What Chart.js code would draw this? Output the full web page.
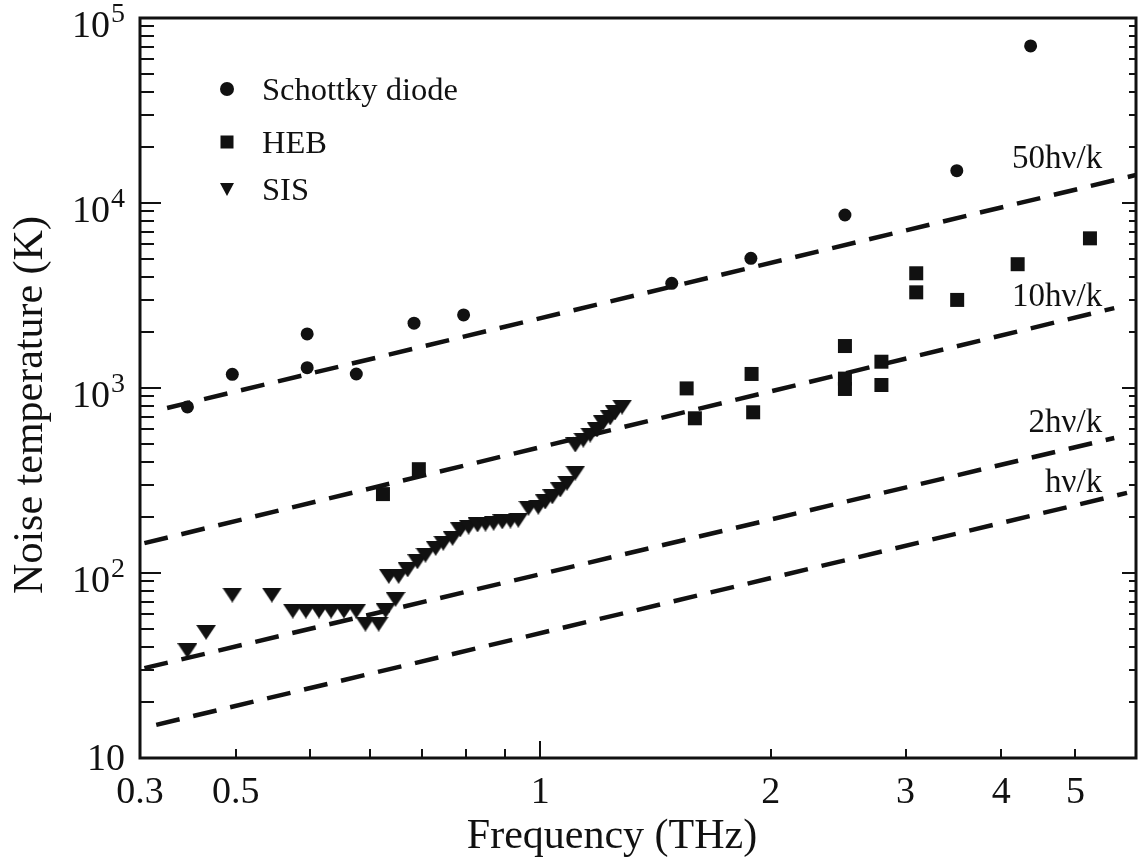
<!DOCTYPE html>
<html>
<head>
<meta charset="utf-8">
<title>Noise temperature vs frequency</title>
<script src="https://cdn.jsdelivr.net/npm/chart.js@4.4.1/dist/chart.umd.min.js"></script>
<style>
  html, body { margin: 0; padding: 0; background: #fff; }
  #chart { display: block; }
</style>
</head>
<body>
<canvas id="chart" width="1146" height="859"></canvas>
<script>
// ============================================
// DATA
// ============================================
const schottkyFreq = [0.346, 0.396, 0.496, 0.496, 0.575, 0.684, 0.794, 1.485, 1.884, 2.50, 3.50, 4.37];
const schottkyTemp = [790, 1186, 1960, 1288, 1190, 2240, 2483, 3681, 5023, 8610, 14960, 70600];

const hebFreq = [0.623, 0.694, 1.553, 1.592, 1.888, 1.897, 2.50, 2.50, 2.50, 2.79, 2.79, 3.098, 3.098, 3.504, 4.203, 5.224];
const hebTemp = [267, 364, 995, 686, 1191, 739, 1686, 1124, 988, 1387, 1038, 4170, 3289, 2993, 4668, 6442];

const sisFreq = [
  0.346, 0.366, 0.396, 0.446, 0.475, 0.494, 0.514, 0.533, 0.554, 0.575,
  0.591, 0.615, 0.628, 0.647, 0.634, 0.653, 0.671, 0.691, 0.708, 0.730,
  0.747, 0.768, 0.786, 0.806, 0.828, 0.848, 0.869, 0.892, 0.914, 0.936,
  0.965, 0.994, 1.015, 1.037, 1.062, 1.084, 1.111, 1.111, 1.138, 1.162,
  1.186, 1.208, 1.234, 1.252, 1.279
];
const sisTemp = [
  38.0, 47.8, 76.0, 76.0, 62.3, 62.3, 62.3, 62.3, 62.3, 62.3,
  53, 53, 62.6, 72.1, 96, 96, 104, 115, 125, 136,
  145, 154, 171, 177, 182, 184, 186, 189, 191, 193,
  224, 227, 242, 258, 281, 306, 347, 492, 523, 557,
  593, 647, 689, 733, 789
];

// n*h*nu/k reference lines (end points)
const line50Freq = [0.3255, 6.0];
const line50Temp = [780, 14160];
const line10Freq = [0.304, 5.62];
const line10Temp = [145, 2704];
const line2Freq = [0.304, 5.62];
const line2Temp = [30.6, 537];
const line1Freq = [0.315, 5.84];
const line1Temp = [15.1, 271];

const lineLabels = ['50h\u03BD/k', '10h\u03BD/k', '2h\u03BD/k', 'h\u03BD/k'];
const lineLabelTemp = [15450, 2772, 578, 274];

const seriesNames = ['Schottky diode', 'HEB', 'SIS'];

const xTickValues = [0.3, 0.4, 1, 2, 3, 4, 5];
const xTickLabels = ['0.3', '0.5', '1', '2', '3', '4', '5'];
const xMinorTicks = [0.4, 0.5, 0.6, 0.7, 0.8, 0.9, 2, 3, 4, 5];
const xMajorTicks = [1];

const yTickValues = [10, 100, 1000, 10000, 100000];
const yTickExponents = ['', '2', '3', '4', '5'];

// ============================================
// HELPERS
// ============================================
const INK = '#111';
const SERIF = '"Liberation Serif", "Times New Roman", serif';

function toPoints(xs, ys) {
  return xs.map((x, i) => ({ x, y: ys[i] }));
}

// down-pointing triangle marker, a bit flatter than equilateral
function makeTriangle(w, h) {
  const c = document.createElement('canvas');
  c.width = w;
  c.height = h;
  const g = c.getContext('2d');
  g.fillStyle = INK;
  g.beginPath();
  g.moveTo(0, 0);
  g.lineTo(w, 0);
  g.lineTo(w / 2, h);
  g.closePath();
  g.fill();
  return c;
}

function dashedLine(xs, ys) {
  return {
    type: 'line',
    data: toPoints(xs, ys),
    showLine: true,
    borderColor: INK,
    borderWidth: 4.5,
    borderDash: [24, 14],
    borderCapStyle: 'butt',
    pointRadius: 0,
    fill: false,
    order: 2
  };
}

// ============================================
// AXES, TICKS, LABELS, LEGEND (drawn on top)
// ============================================
const paperAxes = {
  id: 'paperAxes',
  afterDraw(chart) {
    const { ctx, chartArea: a } = chart;
    const xs = chart.scales.x;
    const ys = chart.scales.y;
    ctx.save();
    ctx.strokeStyle = INK;
    ctx.fillStyle = INK;

    // tick marks
    ctx.lineWidth = 2;
    ctx.beginPath();
    for (let d = 10; d < 100000; d *= 10) {
      for (let m = 1; m <= 9; m++) {
        const y = Math.round(ys.getPixelForValue(d * m));
        const major = m === 1;
        ctx.moveTo(a.left, y); ctx.lineTo(a.left + (major ? 21 : 14), y);
        ctx.moveTo(a.right, y); ctx.lineTo(a.right - (major ? 14 : 7), y);
      }
    }
    xMinorTicks.forEach(v => {
      const x = Math.round(xs.getPixelForValue(v));
      ctx.moveTo(x, a.bottom); ctx.lineTo(x, a.bottom - 9);
    });
    xMajorTicks.forEach(v => {
      const x = Math.round(xs.getPixelForValue(v));
      ctx.moveTo(x, a.bottom); ctx.lineTo(x, a.bottom - 17);
    });
    ctx.stroke();

    // frame
    ctx.lineWidth = 3;
    ctx.strokeRect(a.left, a.top, a.right - a.left, a.bottom - a.top);

    // x tick labels
    ctx.font = `38px ${SERIF}`;
    ctx.textAlign = 'center';
    ctx.textBaseline = 'alphabetic';
    xTickValues.forEach((v, i) => {
      ctx.fillText(xTickLabels[i], xs.getPixelForValue(v), a.bottom + 45);
    });

    // y tick labels (10 with raised exponent)
    const labelRight = a.left - 15;
    yTickValues.forEach((v, i) => {
      const y = ys.getPixelForValue(v);
      const exp = yTickExponents[i];
      ctx.textAlign = 'right';
      if (!exp) {
        ctx.font = `38px ${SERIF}`;
        ctx.fillText('10', labelRight, y + 12);
        return;
      }
      ctx.font = `28px ${SERIF}`;
      ctx.fillText(exp, labelRight, y + 4);
      const w = ctx.measureText(exp).width;
      ctx.font = `38px ${SERIF}`;
      ctx.fillText('10', labelRight - w - 1, y + 19);
    });

    // axis titles
    ctx.font = `42px ${SERIF}`;
    ctx.textAlign = 'center';
    ctx.fillText('Frequency (THz)', 612, a.bottom + 90);
    ctx.save();
    ctx.translate(42, 405);
    ctx.rotate(-Math.PI / 2);
    ctx.fillText('Noise temperature (K)', 0, 0);
    ctx.restore();

    // labels of the reference lines
    ctx.font = `33px ${SERIF}`;
    ctx.textAlign = 'right';
    const labelX = xs.getPixelForValue(5.42);
    lineLabels.forEach((t, i) => {
      ctx.fillText(t, labelX, ys.getPixelForValue(lineLabelTemp[i]));
    });

    // legend
    const symX = 227;
    const textX = 262;
    const rows = [89, 142, 189];
    ctx.font = `32.5px ${SERIF}`;
    ctx.textAlign = 'left';
    ctx.beginPath();
    ctx.arc(symX, rows[0], 7, 0, Math.PI * 2);
    ctx.fill();
    ctx.fillRect(symX - 6.5, rows[1] - 6.5, 13, 13);
    ctx.beginPath();
    ctx.moveTo(symX - 7, rows[2] - 6);
    ctx.lineTo(symX + 7, rows[2] - 6);
    ctx.lineTo(symX, rows[2] + 7);
    ctx.closePath();
    ctx.fill();
    seriesNames.forEach((name, i) => ctx.fillText(name, textX, rows[i] + 11));

    ctx.restore();
  }
};

// ============================================
// CHART
// ============================================
const triangleMarker = makeTriangle(20, 15);

new Chart(document.getElementById('chart').getContext('2d'), {
  type: 'scatter',
  data: {
    datasets: [
      {
        label: seriesNames[0], data: toPoints(schottkyFreq, schottkyTemp),
        pointStyle: 'circle', pointRadius: 6.5, pointBorderWidth: 0,
        backgroundColor: INK, borderColor: INK, order: 1
      },
      {
        label: seriesNames[1], data: toPoints(hebFreq, hebTemp),
        pointStyle: 'rect', pointRadius: 9.9, pointBorderWidth: 0,
        backgroundColor: INK, borderColor: INK, order: 1
      },
      {
        label: seriesNames[2], data: toPoints(sisFreq, sisTemp),
        pointStyle: triangleMarker, pointRadius: 10, pointBorderWidth: 0,
        backgroundColor: INK, borderColor: INK, order: 1
      },
      dashedLine(line50Freq, line50Temp),
      dashedLine(line10Freq, line10Temp),
      dashedLine(line2Freq, line2Temp),
      dashedLine(line1Freq, line1Temp)
    ]
  },
  options: {
    responsive: false,
    animation: false,
    devicePixelRatio: 1,
    layout: { padding: { left: 140, right: 3, top: 18, bottom: 101 } },
    scales: {
      x: { type: 'logarithmic', min: 0.3, max: 6, display: false },
      y: { type: 'logarithmic', min: 10, max: 100000, display: false }
    },
    plugins: {
      legend: { display: false },
      tooltip: { enabled: false }
    }
  },
  plugins: [paperAxes]
});
</script>
</body>
</html>
